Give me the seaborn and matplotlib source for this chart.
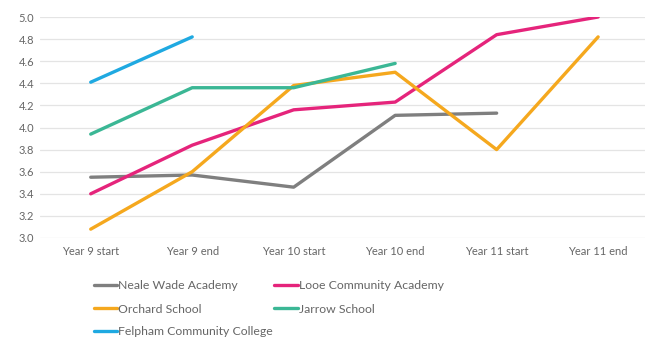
import numpy as np
import pandas as pd
import matplotlib
matplotlib.use("Agg")
import matplotlib.pyplot as plt
import seaborn as sns

stages = ["Year 9 start", "Year 9 end", "Year 10 start", "Year 10 end",
          "Year 11 start", "Year 11 end"]
neale_wade = [3.55, 3.57, 3.46, 4.11, 4.13, np.nan]
looe = [3.40, 3.84, 4.16, 4.23, 4.84, 5.00]
orchard = [3.08, 3.60, 4.38, 4.50, 3.80, 4.82]
jarrow = [3.94, 4.36, 4.36, 4.58, np.nan, np.nan]
felpham = [4.41, 4.82, np.nan, np.nan, np.nan, np.nan]

schools = ["Neale Wade Academy", "Looe Community Academy", "Orchard School",
           "Jarrow School", "Felpham Community College"]
series = [neale_wade, looe, orchard, jarrow, felpham]
colors = ["#7f7f7f", "#e5247b", "#f5a81e", "#3bb795", "#1fa9e1"]

rows = []
for name, vals in zip(schools, series):
    for i, (st, v) in enumerate(zip(stages, vals)):
        rows.append({"stage": st, "pos": i, "school": name, "score": v})
df = pd.DataFrame(rows).dropna()

sns.set_theme(style="white")
plt.rcParams["font.family"] = ["Lato", "DejaVu Sans"]
text_col = "#666666"

fig = plt.figure(figsize=(6.45, 3.4), dpi=100)
ax = fig.add_axes([0.062, 0.30, 0.944, 0.65])

sns.lineplot(data=df, x="pos", y="score", hue="school", hue_order=schools,
             palette=colors, linewidth=2.4, ax=ax, legend=False)

ax.set_xlim(-0.5, 5.5)
ax.set_ylim(3.0, 5.0)
ax.set_yticks(np.arange(3.0, 5.01, 0.2))
ax.set_yticklabels([f"{t:.1f}" for t in np.arange(3.0, 5.01, 0.2)])
ax.set_xticks(range(len(stages)))
ax.set_xticklabels(stages)
ax.tick_params(axis="both", labelsize=8, colors=text_col, length=0)
ax.tick_params(axis="x", pad=6)
ax.tick_params(axis="y", pad=4)
ax.grid(axis="y", color="#e4e4e4", linewidth=0.9)
ax.set_axisbelow(True)
for s in ax.spines.values():
    s.set_visible(False)
ax.set_xlabel("")
ax.set_ylabel("")

leg_kw = dict(frameon=False, fontsize=8.8, handlelength=1.9, handletextpad=0.1,
              labelspacing=1.05, borderaxespad=0, borderpad=0)

# first two legend rows, read left to right
order = [0, 2, 1, 3]
handles = [plt.Line2D([], [], color=colors[i], linewidth=2.4) for i in order]
labels = [schools[i] for i in order]
leg1 = fig.legend(handles, labels, loc="upper left", bbox_to_anchor=(0.145, 0.177),
                  ncol=2, columnspacing=3.0, **leg_kw)
# last row on its own
leg2 = fig.legend([plt.Line2D([], [], color=colors[4], linewidth=2.4)], [schools[4]],
                  loc="upper left", bbox_to_anchor=(0.145, 0.177 - 0.137), **leg_kw)
for leg in (leg1, leg2):
    for t in leg.get_texts():
        t.set_color(text_col)

fig.savefig("out.png", dpi=100)
